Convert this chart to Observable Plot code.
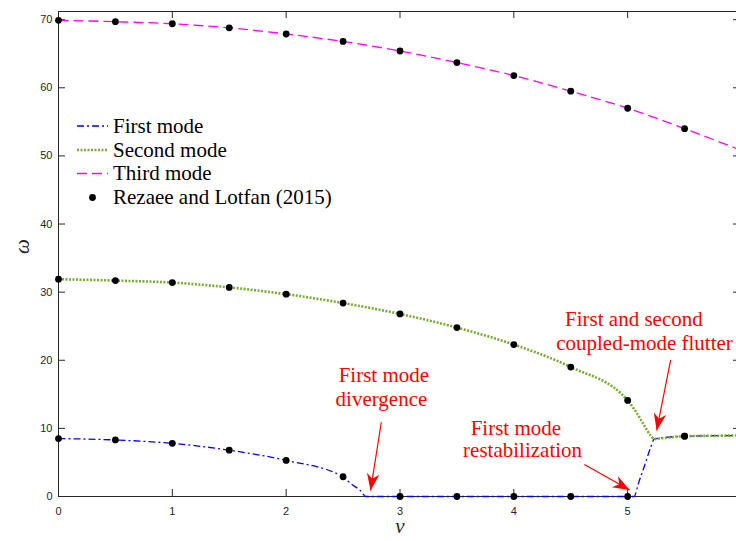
<!DOCTYPE html>
<html>
<head>
<meta charset="utf-8">
<script src="https://cdn.jsdelivr.net/npm/d3@7"></script>
<script src="https://cdn.jsdelivr.net/npm/@observablehq/plot@0.6"></script>
<style>
  html, body { margin: 0; padding: 0; background: white; overflow: hidden; }
  #chart { position: relative; width: 736px; height: 541px; }
  #chart svg text.serif, #chart svg g.serif text { font-family: "Liberation Serif", "DejaVu Serif", serif !important; }
</style>
</head>
<body>
<div id="chart"></div>
<script>
// ---- Reference points (Rezaee and Lotfan, 2015) ----
const nuRef   = [0, 0.5, 1, 1.5, 2, 2.5, 3, 3.5, 4, 4.5, 5, 5.5];
const refMode1 = [8.5, 8.3, 7.8, 6.8, 5.3, 2.9, 0, 0, 0, 0, 0, 8.85];
const refMode2 = [31.9, 31.7, 31.4, 30.7, 29.7, 28.4, 26.8, 24.8, 22.3, 19.0, 14.1, 8.85];
const refMode3 = [69.9, 69.7, 69.4, 68.8, 67.9, 66.8, 65.4, 63.7, 61.8, 59.5, 57.0, 54.0];

// ---- Curves ----
const nuFirst  = [0, 0.5, 1, 1.5, 2, 2.5, 2.57, 2.65, 2.7, 3, 3.5, 4, 4.5, 5, 5.055, 5.1, 5.15, 5.2, 5.235, 5.5, 6];
const first    = [8.5, 8.3, 7.8, 6.8, 5.3, 2.9, 1.85, 0.9, 0, 0, 0, 0, 0, 0, 0, 2.2, 4.6, 7.1, 8.45, 8.85, 8.95];
const nuSecond = [0, 0.5, 1, 1.5, 2, 2.5, 3, 3.5, 4, 4.5, 5, 5.05, 5.1, 5.15, 5.2, 5.235, 5.3, 5.5, 6];
const second   = [31.9, 31.7, 31.4, 30.7, 29.7, 28.4, 26.8, 24.8, 22.3, 19.0, 14.1, 13.0, 11.7, 10.3, 9.0, 8.45, 8.55, 8.85, 8.95];
const nuThird  = [0, 0.5, 1, 1.5, 2, 2.5, 3, 3.5, 4, 4.5, 5, 5.5, 6];
const third    = [69.9, 69.7, 69.4, 68.8, 67.9, 66.8, 65.4, 63.7, 61.8, 59.5, 57.0, 54.0, 50.8];

// ---- Ticks ----
const xTicks = [0, 1, 2, 3, 4, 5, 6];
const xTickLabels = [0, 1, 2, 3, 4, 5];
const yTicks = [0, 10, 20, 30, 40, 50, 60, 70];

// ---- Legend ----
const legendLabels = ["First mode", "Second mode", "Third mode", "Rezaee and Lotfan (2015)"];

// ---- Annotations ----
const noteText = ["First mode", "divergence", "First mode", "restabilization", "First and second", "coupled-mode flutter"];
const noteX = [2.858, 2.837, 4.018, 4.077, 5.055, 5.148];
const noteY = [17.76, 14.24, 10.02, 6.75, 26.08, 22.56];
const arrowX1 = [2.836, 4.62, 5.378];
const arrowY1 = [10.9, 4.7, 20.06];
const arrowX2 = [2.741, 5.018, 5.255];
const arrowY2 = [0.88, 0.95, 9.7];

// ---- Layout ----
const W = 736, H = 541, ML = 58, MR = -5, MT = 11, MB = 45;
const xDomain = [0, 6], yDomain = [0, 71.2];
const FW = W - ML - MR, FH = H - MT - MB;
const kx = FW / (xDomain[1] - xDomain[0]);
const ky = FH / (yDomain[1] - yDomain[0]);
const TICK = 7;

const BLUE = "#0000ff", GREEN = "#77ac30", MAGENTA = "#ff00ff", RED = "#ff0000";
const SERIF = "Liberation Serif";
const AXIS = "#262626";

const toRows = (xs, ys) => xs.map((x, i) => ({x, y: ys[i]}));
const line1 = toRows(nuFirst, first);
const line2 = toRows(nuSecond, second);
const line3 = toRows(nuThird, third);
const refRows = [...toRows(nuRef, refMode1), ...toRows(nuRef, refMode2), ...toRows(nuRef, refMode3)];
const notes = noteText.map((t, i) => ({t, x: noteX[i], y: noteY[i]}));
const arrows = arrowX1.map((x1, i) => {
  const dxp = (arrowX2[i] - x1) * kx;
  const dyp = -(arrowY2[i] - arrowY1[i]) * ky;
  return {x1, y1: arrowY1[i], x2: arrowX2[i], y2: arrowY2[i], rot: Math.atan2(dxp, -dyp) * 180 / Math.PI};
});

// Filled arrow head with tip at origin pointing up
const headSymbol = {
  draw(context) {
    context.moveTo(0, 0);
    context.lineTo(-6.3, 17);
    context.lineTo(0, 12);
    context.lineTo(6.3, 17);
    context.closePath();
  }
};

const lineOpts = {x: "x", y: "y", strokeLinecap: "butt", strokeLinejoin: "miter", curve: "monotone-x"};

const plot = Plot.plot({
  width: W, height: H,
  marginLeft: ML, marginRight: MR, marginTop: MT, marginBottom: MB,
  x: {domain: xDomain},
  y: {domain: yDomain},
  style: {fontFamily: "Liberation Sans", fontSize: "11px", color: AXIS, background: "white"},
  marks: [
    Plot.frame({stroke: AXIS, strokeWidth: 1}),
    // inward tick marks on all four sides
    Plot.tickX(xTicks, {x: d => d, stroke: AXIS, insetTop: FH - TICK}),
    Plot.tickX(xTicks, {x: d => d, stroke: AXIS, insetBottom: FH - TICK}),
    Plot.tickY(yTicks, {y: d => d, stroke: AXIS, insetRight: FW - TICK}),
    Plot.tickY(yTicks, {y: d => d, stroke: AXIS, insetLeft: FW - TICK - 1}),
    // tick labels
    Plot.axisX({anchor: "bottom", ticks: xTickLabels, tickSize: 0, tickPadding: 11, tickFormat: d3.format("d"), label: null}),
    Plot.axisY({anchor: "left", ticks: yTicks, tickSize: 0, tickPadding: 6, tickFormat: d3.format("d"), label: null}),
    // curves
    Plot.line(line1, {...lineOpts, stroke: BLUE, strokeWidth: 1.3, strokeDasharray: "7,3,2,3"}),
    Plot.line(line2, {...lineOpts, stroke: GREEN, strokeWidth: 2.6, strokeDasharray: "2,1.5"}),
    Plot.line(line3, {...lineOpts, stroke: MAGENTA, strokeWidth: 1.3, strokeDasharray: "10,5"}),
    Plot.dot(refRows, {x: "x", y: "y", r: 3.4, fill: "black", stroke: "none"}),
    // annotations
    Plot.text(notes, {x: "x", y: "y", text: "t", fill: RED, fontFamily: SERIF, fontSize: 21, className: "serif"}),
    Plot.link(arrows, {x1: "x1", y1: "y1", x2: "x2", y2: "y2", stroke: RED, strokeWidth: 1.2}),
    Plot.dot(arrows, {x: "x2", y: "y2", symbol: headSymbol, rotate: "rot", fill: RED, stroke: "none"}),
    // axis titles
    Plot.text(["ν"], {frameAnchor: "bottom", dy: 36, fontFamily: SERIF, fontStyle: "italic", fontSize: 21, fill: AXIS, className: "serif"}),
    Plot.text(["ω"], {frameAnchor: "left", dx: -36, rotate: -90, fontFamily: SERIF, fontStyle: "italic", fontSize: 21, fill: AXIS, className: "serif"})
  ]
});

// Legend (inside the plot, top-left)
const svg = d3.select(plot);
const lg = svg.append("g").attr("class", "serif").attr("font-family", SERIF).attr("font-size", 21).attr("text-anchor", "start");
const rowY = [126, 150, 173.5, 197.5];
const styles = [
  {stroke: BLUE, width: 1.3, dash: "7,3,2,3"},
  {stroke: GREEN, width: 2.6, dash: "2,1.5"},
  {stroke: MAGENTA, width: 1.3, dash: "10,5"},
  null
];
legendLabels.forEach((label, i) => {
  const y = rowY[i];
  const s = styles[i];
  if (s) {
    lg.append("line").attr("x1", 77).attr("x2", 108).attr("y1", y).attr("y2", y)
      .attr("stroke", s.stroke).attr("stroke-width", s.width).attr("stroke-dasharray", s.dash);
  } else {
    lg.append("circle").attr("cx", 92.5).attr("cy", y).attr("r", 3.4).attr("fill", "black");
  }
  lg.append("text").attr("x", 113).attr("y", y).attr("dy", "0.32em").attr("fill", "black")
    .style("font-family", "'Liberation Serif', 'DejaVu Serif', serif").text(label);
});

document.getElementById("chart").appendChild(plot);
</script>
</body>
</html>
